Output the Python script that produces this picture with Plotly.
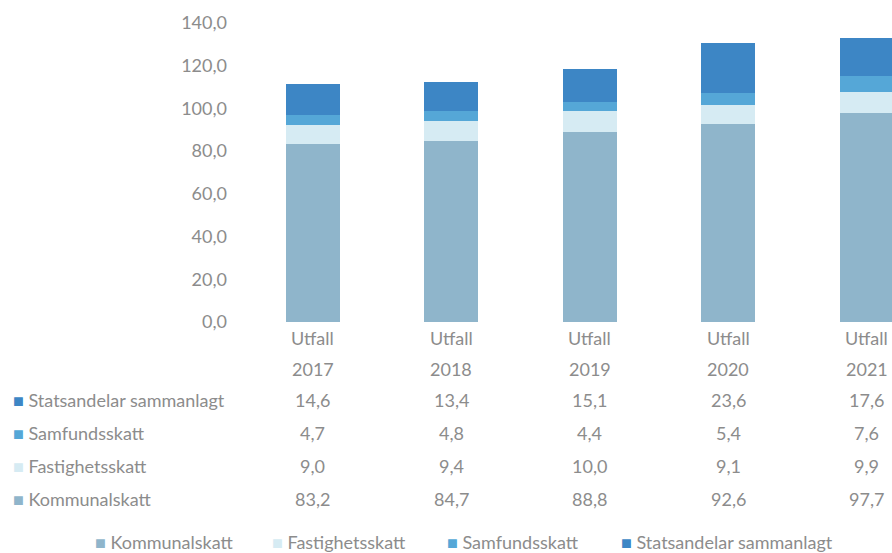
import plotly.graph_objects as go

years = ["2017", "2018", "2019", "2020", "2021"]
col_prefix = "Utfall"
kommunalskatt = [83.2, 84.7, 88.8, 92.6, 97.7]
fastighetsskatt = [9.0, 9.4, 10.0, 9.1, 9.9]
samfundsskatt = [4.7, 4.8, 4.4, 5.4, 7.6]
statsandelar = [14.6, 13.4, 15.1, 23.6, 17.6]

series_names = ["Kommunalskatt", "Fastighetsskatt", "Samfundsskatt", "Statsandelar sammanlagt"]
series_values = [kommunalskatt, fastighetsskatt, samfundsskatt, statsandelar]
colors = ["#8fb5cb", "#d6ebf3", "#55a7d7", "#3d86c5"]

FONT = "Lato"
GRAY = "#8c8c8c"
FS = 18

cats = [f"{col_prefix} {y}" for y in years]

fig = go.Figure()
for name, vals, c in zip(series_names, series_values, colors):
    fig.add_trace(go.Bar(x=cats, y=vals, name=name, marker=dict(color=c, line=dict(width=0)),
                         width=0.39))

W, H = 892, 553
L = 240
top_px, bot_px = 23, 322
def py(p):
    return (bot_px - p) / (bot_px - top_px)
def pxp(p):
    return (p - L) / (W - L)

txtfont = dict(family=FONT, size=FS, color=GRAY)
ann = []
for c, y in zip(cats, years):
    ann.append(dict(x=c, xref="x", y=py(338), yref="paper", text=col_prefix, showarrow=False,
                    xanchor="center", yanchor="middle", font=txtfont))
    ann.append(dict(x=c, xref="x", y=py(369), yref="paper", text=y, showarrow=False,
                    xanchor="center", yanchor="middle", font=txtfont))

# data-table rows (top to bottom)
row_order = [3, 2, 1, 0]
row_px = [400, 433, 466, 499]
for ri, rp in zip(row_order, row_px):
    ann.append(dict(x=pxp(11), xref="paper", y=py(rp), yref="paper",
                    xanchor="left", yanchor="middle",
                    text=f"<span style='color:{colors[ri]}'>■</span> {series_names[ri]}",
                    showarrow=False, font=txtfont))
    for c, v in zip(cats, series_values[ri]):
        ann.append(dict(x=c, xref="x", y=py(rp), yref="paper",
                        text=f"{v:.1f}".replace(".", ","), showarrow=False,
                        xanchor="center", yanchor="middle", font=txtfont))

# legend row at the bottom
legend_px = [93, 270, 445, 619]
for i, lx in enumerate(legend_px):
    ann.append(dict(x=pxp(lx), xref="paper", y=py(542), yref="paper",
                    xanchor="left", yanchor="middle",
                    text=f"<span style='color:{colors[i]}'>■</span> {series_names[i]}",
                    showarrow=False, font=txtfont))

fig.update_layout(
    width=W, height=H,
    margin=dict(l=L, r=0, t=top_px, b=H - bot_px),
    paper_bgcolor="white", plot_bgcolor="white",
    barmode="stack",
    separators=",.",
    font=txtfont,
    xaxis=dict(range=[-0.527, 4.181], showticklabels=False, showgrid=False, zeroline=False,
               showline=False, ticks=""),
    yaxis=dict(range=[0, 140], dtick=20, tickformat=".1f", showgrid=False, zeroline=False,
               showline=False, ticks="", ticklabelstandoff=12, tickfont=txtfont),
    annotations=ann,
    showlegend=False,
)

fig.write_html("out.html", config={"displayModeBar": False},
               post_script="document.body.style.margin='0';document.body.style.overflow='hidden';")
